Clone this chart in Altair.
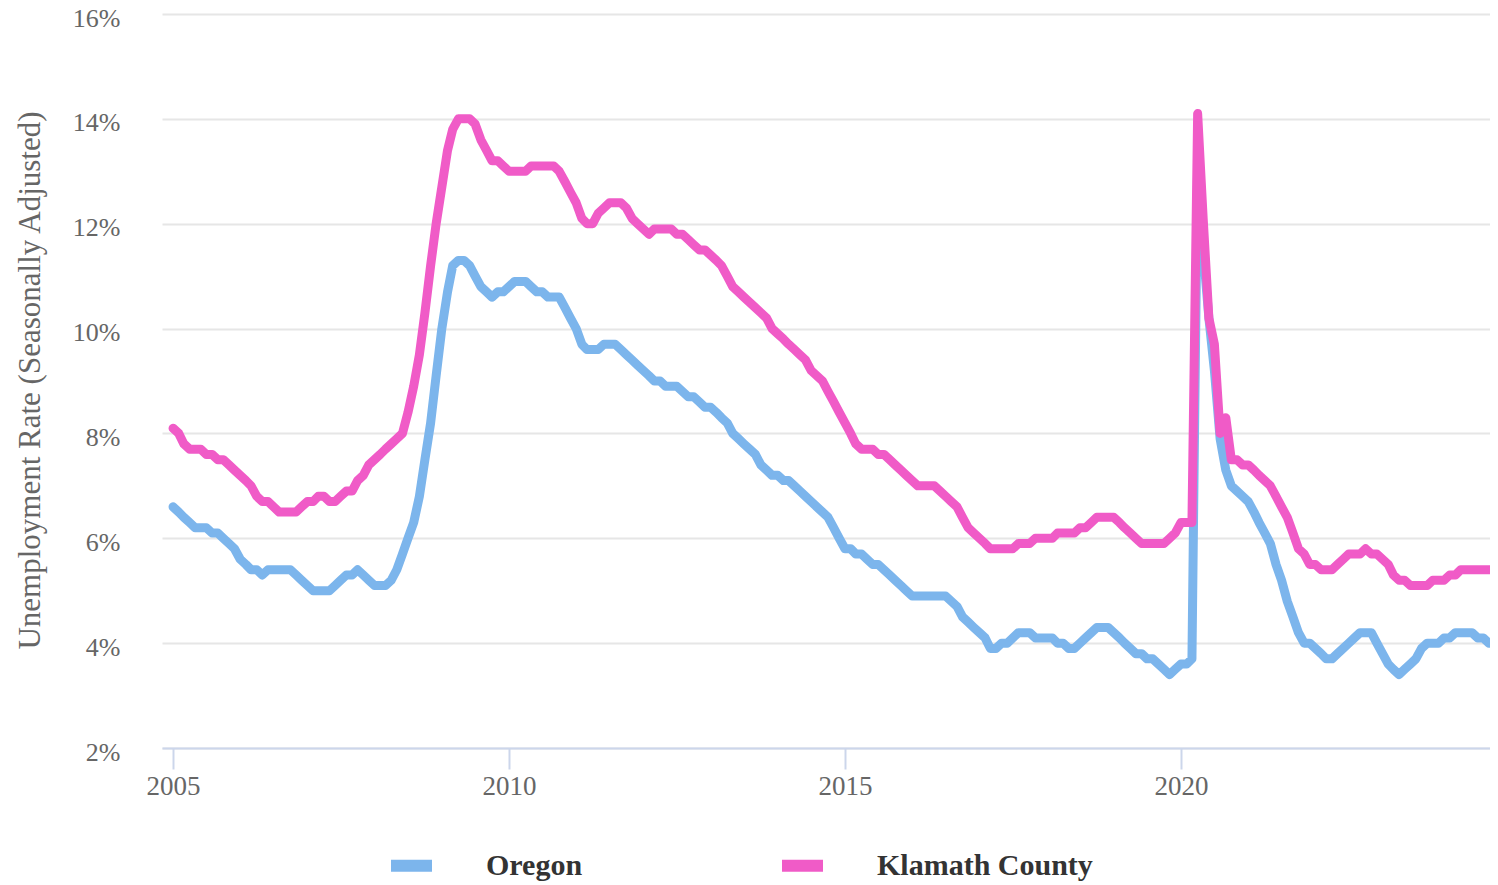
import altair as alt
import pandas as pd

START_YEAR = 2005
SERIES = ["Oregon", "Klamath County"]
COLORS = ["#7cb5ec", "#f05bc7"]
Y_TICKS = [2, 4, 6, 8, 10, 12, 14, 16]
X_TICK_YEARS = [2005, 2010, 2015, 2020]

# Monthly values, Jan 2005 .. Sep 2024
oregon = [
    6.6, 6.5, 6.4, 6.3, 6.2, 6.2, 6.2, 6.1, 6.1, 6.0, 5.9, 5.8,
    5.6, 5.5, 5.4, 5.4, 5.3, 5.4, 5.4, 5.4, 5.4, 5.4, 5.3, 5.2,
    5.1, 5.0, 5.0, 5.0, 5.0, 5.1, 5.2, 5.3, 5.3, 5.4, 5.3, 5.2,
    5.1, 5.1, 5.1, 5.2, 5.4, 5.7, 6.0, 6.3, 6.8, 7.5, 8.2, 9.1,
    10.0, 10.7, 11.2, 11.3, 11.3, 11.2, 11.0, 10.8, 10.7, 10.6, 10.7, 10.7,
    10.8, 10.9, 10.9, 10.9, 10.8, 10.7, 10.7, 10.6, 10.6, 10.6, 10.4, 10.2,
    10.0, 9.7, 9.6, 9.6, 9.6, 9.7, 9.7, 9.7, 9.6, 9.5, 9.4, 9.3,
    9.2, 9.1, 9.0, 9.0, 8.9, 8.9, 8.9, 8.8, 8.7, 8.7, 8.6, 8.5,
    8.5, 8.4, 8.3, 8.2, 8.0, 7.9, 7.8, 7.7, 7.6, 7.4, 7.3, 7.2,
    7.2, 7.1, 7.1, 7.0, 6.9, 6.8, 6.7, 6.6, 6.5, 6.4, 6.2, 6.0,
    5.8, 5.8, 5.7, 5.7, 5.6, 5.5, 5.5, 5.4, 5.3, 5.2, 5.1, 5.0,
    4.9, 4.9, 4.9, 4.9, 4.9, 4.9, 4.9, 4.8, 4.7, 4.5, 4.4, 4.3,
    4.2, 4.1, 3.9, 3.9, 4.0, 4.0, 4.1, 4.2, 4.2, 4.2, 4.1, 4.1,
    4.1, 4.1, 4.0, 4.0, 3.9, 3.9, 4.0, 4.1, 4.2, 4.3, 4.3, 4.3,
    4.2, 4.1, 4.0, 3.9, 3.8, 3.8, 3.7, 3.7, 3.6, 3.5, 3.4, 3.5,
    3.6, 3.6, 3.7, 13.2, 11.5, 10.2, 9.2, 7.9, 7.3, 7.0, 6.9, 6.8,
    6.7, 6.5, 6.3, 6.1, 5.9, 5.5, 5.2, 4.8, 4.5, 4.2, 4.0, 4.0,
    3.9, 3.8, 3.7, 3.7, 3.8, 3.9, 4.0, 4.1, 4.2, 4.2, 4.2, 4.0,
    3.8, 3.6, 3.5, 3.4, 3.5, 3.6, 3.7, 3.9, 4.0, 4.0, 4.0, 4.1,
    4.1, 4.2, 4.2, 4.2, 4.2, 4.1, 4.1, 4.0, 4.0,
]

klamath = [
    8.1, 8.0, 7.8, 7.7, 7.7, 7.7, 7.6, 7.6, 7.5, 7.5, 7.4, 7.3,
    7.2, 7.1, 7.0, 6.8, 6.7, 6.7, 6.6, 6.5, 6.5, 6.5, 6.5, 6.6,
    6.7, 6.7, 6.8, 6.8, 6.7, 6.7, 6.8, 6.9, 6.9, 7.1, 7.2, 7.4,
    7.5, 7.6, 7.7, 7.8, 7.9, 8.0, 8.4, 8.9, 9.5, 10.3, 11.2, 12.0,
    12.7, 13.4, 13.8, 14.0, 14.0, 14.0, 13.9, 13.6, 13.4, 13.2, 13.2, 13.1,
    13.0, 13.0, 13.0, 13.0, 13.1, 13.1, 13.1, 13.1, 13.1, 13.0, 12.8, 12.6,
    12.4, 12.1, 12.0, 12.0, 12.2, 12.3, 12.4, 12.4, 12.4, 12.3, 12.1, 12.0,
    11.9, 11.8, 11.9, 11.9, 11.9, 11.9, 11.8, 11.8, 11.7, 11.6, 11.5, 11.5,
    11.4, 11.3, 11.2, 11.0, 10.8, 10.7, 10.6, 10.5, 10.4, 10.3, 10.2, 10.0,
    9.9, 9.8, 9.7, 9.6, 9.5, 9.4, 9.2, 9.1, 9.0, 8.8, 8.6, 8.4,
    8.2, 8.0, 7.8, 7.7, 7.7, 7.7, 7.6, 7.6, 7.5, 7.4, 7.3, 7.2,
    7.1, 7.0, 7.0, 7.0, 7.0, 6.9, 6.8, 6.7, 6.6, 6.4, 6.2, 6.1,
    6.0, 5.9, 5.8, 5.8, 5.8, 5.8, 5.8, 5.9, 5.9, 5.9, 6.0, 6.0,
    6.0, 6.0, 6.1, 6.1, 6.1, 6.1, 6.2, 6.2, 6.3, 6.4, 6.4, 6.4,
    6.4, 6.3, 6.2, 6.1, 6.0, 5.9, 5.9, 5.9, 5.9, 5.9, 6.0, 6.1,
    6.3, 6.3, 6.3, 14.1, 12.1, 10.2, 9.7, 8.0, 8.3, 7.5, 7.5, 7.4,
    7.4, 7.3, 7.2, 7.1, 7.0, 6.8, 6.6, 6.4, 6.1, 5.8, 5.7, 5.5,
    5.5, 5.4, 5.4, 5.4, 5.5, 5.6, 5.7, 5.7, 5.7, 5.8, 5.7, 5.7,
    5.6, 5.5, 5.3, 5.2, 5.2, 5.1, 5.1, 5.1, 5.1, 5.2, 5.2, 5.2,
    5.3, 5.3, 5.4, 5.4, 5.4, 5.4, 5.4, 5.4, 5.4,
]


def month_str(i):
    return f"{START_YEAR + i // 12}-{i % 12 + 1:02d}-01T00:00:00"


rows = []
for name, vals in zip(SERIES, [oregon, klamath]):
    for i, v in enumerate(vals):
        rows.append({"date": month_str(i), "rate": v, "series": name})
df = pd.DataFrame(rows)

FONT = "Liberation Serif"

x = alt.X(
    "date:T",
    scale=alt.Scale(domain=[alt.DateTime(year=2004, month=11, date=2),
                            alt.DateTime(year=2024, month=8, date=7)]),
    axis=alt.Axis(
        values=[alt.DateTime(year=yr, month=1, date=1) for yr in X_TICK_YEARS],
        format="%Y", title=None, grid=False,
        domainColor="#ccd6eb", domainWidth=2,
        tickColor="#ccd6eb", tickWidth=2, tickSize=21,
        labelFont=FONT, labelFontSize=27, labelColor="#666666", labelPadding=4,
    ),
)
y = alt.Y(
    "rate:Q",
    scale=alt.Scale(domain=[2, 16], nice=False, zero=False),
    axis=alt.Axis(
        values=Y_TICKS, labelExpr="datum.value + '%'",
        domain=False, ticks=False, grid=True,
        gridColor="#e6e6e6", gridWidth=2,
        labelFont=FONT, labelFontSize=26, labelColor="#666666",
        labelPadding=42, labelOffset=4,
        title="Unemployment Rate (Seasonally Adjusted)",
        titleFont=FONT, titleFontSize=31, titleColor="#666666",
        titleFontWeight="normal", titleX=-132, titleY=366,
        titleAlign="center", titleBaseline="middle", titleAngle=270,
    ),
)
color = alt.Color(
    "series:N",
    scale=alt.Scale(domain=SERIES, range=COLORS),
    legend=alt.Legend(
        title=None, orient="none", legendX=223, legendY=825,
        direction="horizontal", symbolType="stroke", symbolSize=1681,
        symbolStrokeWidth=12, labelFont=FONT, labelFontWeight="bold",
        labelFontSize=30, labelColor="#333333", labelOffset=48,
        columnPadding=175, labelLimit=500, padding=0,
    ),
)

base = alt.Chart(df).mark_line(
    strokeWidth=9, strokeJoin="round", strokeCap="round", clip=True
).encode(x=x, y=y, color=color)

chart = alt.layer(
    base.transform_filter(alt.datum.series == SERIES[0]),
    base.transform_filter(alt.datum.series == SERIES[1]),
).properties(
    width=1328, height=734,
    autosize=alt.AutoSizeParams(type="none"),
    padding={"left": 154, "top": 6, "right": 0, "bottom": 136},
).configure_view(stroke=None)

chart.save("out.html", embed_options={"renderer": "svg", "actions": False})
